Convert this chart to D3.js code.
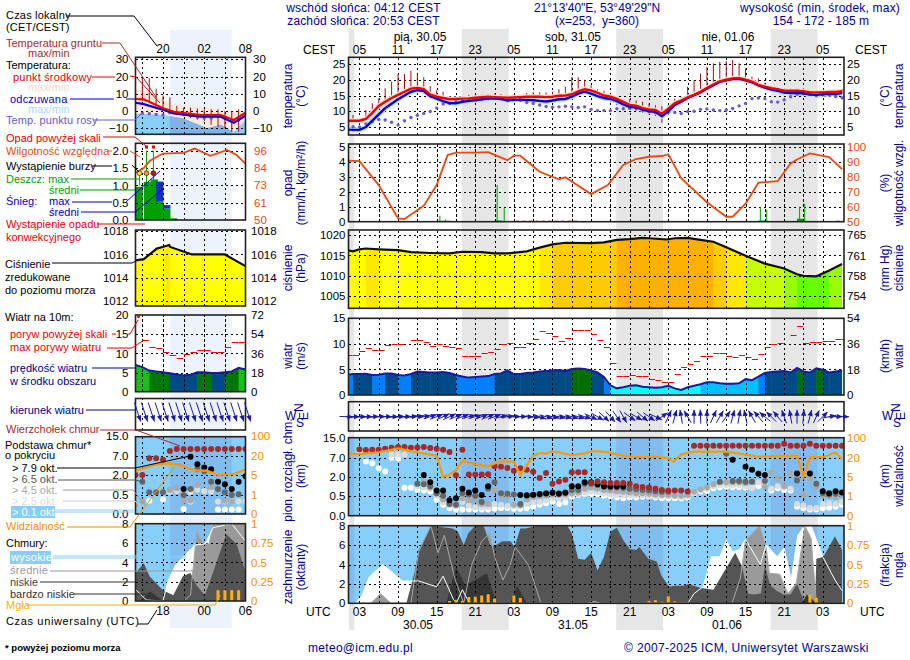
<!DOCTYPE html>
<html>
<head>
<meta charset="utf-8">
<script src="https://cdn.jsdelivr.net/npm/d3@7"></script>
<style>
  body { margin: 0; background: #fff; }
  text { font-family: "Liberation Sans", Arial, sans-serif; font-size: 11px; }
</style>
</head>
<body>
<div id="chart"></div>
<script>
// hours are UTC, counted from 00:00 on 30.05
var hours = d3.range(1, 79);
var nightBands = [[0, 2.2], [18.9, 26.2], [42.9, 50.2], [66.9, 74.2]];
var timeTicks = [3, 9, 15, 21, 27, 33, 39, 45, 51, 57, 63, 69, 75];
var cestLabels = ["05", "11", "17", "23", "05", "11", "17", "23", "05", "11", "17", "23", "05"];
var utcLabels = ["03", "09", "15", "21", "03", "09", "15", "21", "03", "09", "15", "21", "03"];
var gridHours = d3.range(3, 78, 3);

var tempMid = [7,7,7,7.6,9.5,11.7,13,14.2,15.2,16.2,
  17.2,17.4,17,15.3,14.6,14.2,13.8,13.9,14,14.1,
  14.3,14.5,14.6,14.5,14.4,14.3,14.4,14.5,14.6,14.6,
  14.6,14.5,14.6,14.9,15,15.4,16.3,17,16.6,15.8,
  15,14.6,13.9,13,12,11.8,11,10.6,10.4,9.2,
  10.8,12.5,13.4,14.4,15.2,16.2,17.4,18.5,19.5,20,
  20.4,20.5,20,19.4,18.4,17.8,17.3,17,16.5,16.5,
  16.5,16.4,16,16,16,16.1,16.1,16.4];
var tempFeels = [4.2,4.1,4.1,5,7,9,11,12.4,13.8,15,
  16.2,16.7,16.4,14.8,14,13.2,12.6,12.5,13,13.3,
  13.5,13.8,14,14,13.9,13.5,13.6,13.7,13.6,13.5,
  13.3,13.1,13.4,13.8,13.9,14.6,15.6,16.2,15.6,14.8,
  14.2,13.9,13.2,12.2,11.4,11.2,10.5,10,9.8,8.4,
  10,12,13,14.2,15.1,16,17.2,18.3,19.3,19.8,
  20.2,20.3,19.8,19.2,18.2,17.5,16.9,16.5,15.9,15.8,
  15.8,15.7,15.3,15.2,15.4,15.5,15.5,15.8];
var dewPoint = [5.3,5.1,5,6,6.7,7.4,7.2,6.5,5.6,7,
  8,8.7,9.3,9.9,11,12.3,12.5,13,13.3,13.4,
  13.6,13.8,14,14.2,14,13.4,13.6,13.5,12.8,12.5,
  12,11.5,11.3,11.4,11.6,11.4,11.2,11.4,10.6,10.2,
  10.2,10.2,10.8,10.8,10.9,10.8,10.2,9.9,9.5,9.3,
  9.7,9.6,9.3,9.9,10,10.6,10.7,10.4,10.2,10.4,
  10.9,11.7,12.5,14,14.2,14,13,12.9,13.6,14.6,
  15.4,15.6,15.4,14.9,15.2,15.2,14.7,14.3];
var groundMax = [7.5,8.8,7.8,10.4,12.5,14,17.3,19.4,21.8,21.8,
  22.9,22.2,20.8,18,16.7,16.2,14.8,14.4,14.8,15.2,
  15.2,15.4,15.4,15.6,15.4,15,15.2,15.2,15.8,16,
  16,16,16.2,17,17.8,20.8,20.8,20,18.3,17,
  16.5,15.4,14.6,13.8,13.8,13.4,13,12.4,11.9,11.6,
  12,14,14.5,17.8,19.8,22,24.1,25.2,25.7,25.9,
  26.3,25.2,23.6,21,20.5,19,17.8,17.5,17.3,17.3,
  17.3,17,16.7,16.7,16.5,16.5,16.7,17];
var groundMin = [6.5,6.5,6.5,7,8.5,10.5,11.5,12.8,13.8,15,
  16,16,15.5,14,13.5,13,12.5,12.5,12.8,13,
  13.2,13.5,13.8,13.8,13.6,13.2,13.2,13.2,13.2,13,
  13,12.8,13,13.5,13.5,14.5,15.5,16,15.5,14.5,
  13.5,13,12,11,10.5,10.2,9.5,9,8.5,6.4,
  9,11.5,13,14,15,16,17,18,19,19.5,
  20,20,19.5,19,18,17,16.5,16,15.5,15.5,
  15.5,15.3,15,15,15,15.2,15.2,15.5];

var humidity = [[1.1,90.7],[3,90.4],[6,74.4],[9,52.2],[10,51.8],[13,60.7],[15,74.4],[16.7,94.4],[18,96],[21,96],[23,96.4],[26,91],[27,94],[28,94],[31,83.3],[34,78.2],[35,79.6],[39,68.4],[41.6,74.4],[44,87.8],[46,91.8],[48,93.3],[50,93.8],[51,95],[53,79],[57,63],[60,53.3],[61,53.3],[63,62],[65,76],[68,77],[70,88.8],[71,91.5],[73,95.5],[76,93],[78,85]];
var rainMax = [[15.5,0.4],[16.4,0.15],[24.4,2.45],[25.5,0.9],[65.3,1],[66.3,0.8],[71.4,1],[72.2,1.2]];
var rainMean = [[15,0.06],[16,0.06],[24,0.08],[65,0.08],[71,0.2]];
var convective = [27.5,28.5,29.5,30.5,31.5,32.5,33.5,34.5,35.5,36.5,77.3];

var pressure = [[1.1,1016.3],[2,1016],[3,1016.5],[4,1016.7],[6,1016.5],[9,1016.3],[11,1015.8],[14,1015.6],[17,1015.5],[19,1015.9],[22,1015.8],[24,1015.5],[26,1015.5],[29,1016],[31,1016.9],[33,1017.7],[35,1018.1],[39,1018],[41,1018.2],[43,1018.8],[45,1019],[47,1019.3],[48,1019.2],[50.7,1018.9],[52,1019.2],[54,1019.3],[56,1018.8],[58,1018.35],[60,1017],[63,1014.9],[66,1013],[69,1011.8],[71,1010.4],[72,1010],[74,1009.9],[76,1011.3],[78,1012.9]];

var windSpeed = [3.9,4.1,4.1,4.15,3.9,3.95,4.2,4.2,3.9,3.8,
  4.1,4.6,4.5,4.4,4.4,4.5,4.3,3.9,3.6,3.4,
  3.5,3.6,3.7,4.1,4.2,4.8,4.1,4.1,4.3,4.4,
  4.6,4.7,4.8,4.9,4.7,5.1,5.2,5.1,4.8,4.4,
  3.5,1.9,1.3,1.5,1.8,1.9,1.6,1.5,1.4,1.5,
  1.8,1.3,1,1.5,1.8,2.1,2.5,2.5,2.3,2.2,
  2.2,2.3,3.1,2.9,3.6,4.3,4.5,4.6,4.7,4.4,
  5.3,4.6,4.4,5.2,4.95,4.4,4.6,4.8];
var windGust = [7.8,7.8,8.7,9.1,8.8,8.8,9.7,9.9,9.9,null,
  10.8,10.8,10.3,9.5,9.9,9.5,9.4,9.1,7.6,7.6,
  7.7,8.2,8.5,8.9,9.9,10.2,9.3,9.3,10.1,11,
  12.5,12.2,11.5,10.5,11.1,12.8,12.7,12.7,11.9,10.8,
  9.3,6.3,3.8,3.8,4,3.8,3.7,3.1,2.9,2.5,
  2.5,4.2,5.5,6.1,6.7,7.6,7.6,8.2,8.2,7.6,
  7.4,7.8,7.4,7,8,9.3,9.9,10.2,null,11.7,
  13.4,10.1,10.3,10.3,10.5,10.5,10.9,10.9];
var windDir = [272,270,270,270,268,268,270,270,268,268,
  265,262,258,252,248,245,245,248,250,255,
  255,250,248,250,255,262,268,268,272,278,
  290,285,282,282,285,285,285,288,295,300,
  312,318,325,330,305,300,310,305,295,235,
  205,195,170,150,180,178,180,205,210,215,
  195,190,168,150,140,130,135,140,160,170,
  180,185,195,205,225,258,268,270];

var cloudTop = [null,null,10.3,10.1,10.2,10.2,10.6,11,11.3,11.3,
  11,11.1,11.3,10.9,10.6,10.2,9.3,2.5,10.2,2.7,
  2.7,2.7,2.8,4.8,4.7,4.4,3.7,4.3,3.9,3.4,
  1.95,3.1,1.5,1.66,1.8,3.3,3.3,3.3,1.55,1.66,
  1.6,1.55,1.55,1.55,1.5,1.3,1.24,1.2,1.1,1,
  .95,.95,.95,.87,11.8,11.8,11.8,11.8,11.8,11.8,
  11.8,11.8,11.8,11.8,11.8,11.8,11.8,11.8,12.6,11.8,
  11.8,11.8,12.6,11.8,11.8,11.8,11.8,11.8];
var base79 = [null,null,null,null,null,null,null,null,null,null,
  null,null,2.6,1.6,.95,.95,.4,.45,1.1,.8,
  .95,.6,1.3,null,null,null,null,.6,.58,.63,
  .68,.72,.78,.7,.78,1.3,1.3,1.6,1.6,1.45,
  1.3,1.3,1.3,1.3,null,null,null,null,null,null,
  null,null,null,null,null,null,null,null,null,null,
  6.5,null,4.7,3.9,2.9,2.6,null,null,null,null,
  3,null,3,null,.9,.75,.9,.8];
var base65 = [null,null,null,null,null,null,null,null,null,null,
  null,1.5,1.45,1.3,.75,.55,.3,.28,.75,.65,
  .55,.35,1.1,1.6,.75,.7,.65,.3,.55,.6,
  .65,.75,.8,.75,.8,1,1,1.5,1.5,1.4,
  1.25,1.2,1.2,1.15,1.1,1.05,1,.95,.9,.85,
  .85,null,null,null,null,null,null,null,1.65,8.6,
  1.7,1.7,1.65,1.65,null,1.7,null,null,null,null,
  1.75,null,null,1.5,.75,.65,.7,.8];
var base45 = [null,null,null,null,null,null,null,null,null,null,
  null,1.5,1.7,1.2,.7,.42,.3,.28,.45,.4,
  .42,.3,.3,.95,.55,.5,.28,.27,.42,.48,
  .5,.55,.62,.6,.62,.75,.8,1.1,1.2,1.1,
  1,.95,.9,.85,.8,.75,.75,.7,.65,.6,
  .6,.55,.55,.6,.85,1.05,1.2,1.45,1.6,1.6,
  1.6,1.6,1.55,1.7,3,1.25,3.2,1.9,1.3,3,
  2.3,.65,1.9,1.2,.55,.5,.48,.6];
var base25 = [null,null,null,null,null,null,null,8.3,8.4,8.2,
  null,1.3,1.2,1.1,.55,.34,.26,.24,.35,.26,
  .22,.22,.22,.3,.28,.25,.25,.24,.3,.35,
  .36,.4,.45,.45,.47,.6,.65,.8,.85,.82,
  .72,.65,.6,.58,.58,.56,.56,.53,.52,.5,
  .5,.5,.48,.5,.75,.95,1.1,1.3,1.4,1.4,
  1.4,1.4,1.3,1.2,1.6,1.5,1.1,1.3,1.2,1.1,
  .3,.26,.2,.2,.3,.32,.3,.35];
var base01 = [null,null,9.8,6,5.6,4.3,3.5,7,6.8,1.18,
  1.18,1,.95,.87,.41,.28,.19,.16,.16,.16,
  .16,.16,.16,.18,.19,.19,.18,.18,.19,.23,
  .28,.32,.36,.3,.34,.49,.6,.68,.68,.66,
  .55,.5,.47,.45,.47,.47,.49,.49,.47,.45,
  .45,.45,.45,.47,.74,.87,.92,1.13,1.21,1.26,
  1.21,1.21,1.18,1.18,1.29,1.32,.95,1.13,1,.95,
  .23,.19,.16,.16,.19,.21,.23,.28];
var visibility = [[1.1,37],[3,34.7],[6,41],[9,57],[12,41],[15,28],[16,5.4],[17,7],[18,10.6],[19,17.7],[21,14.9],[23,13.6],[25,17.4],[27,16.9],[28,6.8],[30,28],[31,38.7],[32,36],[33,46.7],[36,30.7],[38,37],[39,46.7],[41,44],[44,28],[46,22.7],[49,24],[51,19.5],[51.8,17],[53,33.3],[55,44],[60,44],[65,24],[69,28],[71,28],[72,5.5],[73,22],[75,22],[77,41],[78,19]];

var cloudHigh = [[1,0],[2.4,0],[3.4,.8],[4.5,2.7],[6.6,4],[7.9,3.3],[9.7,2.3],[11,2.3],[12.2,2.3],[15,1.7],[16,2.8],[17.6,.4],[18.1,.1],[19,1.4],[19.7,.5],[20.2,0],[38.5,0],[39.5,.15],[40.5,0],[54,0],[55,1],[56.4,1.7],[57.7,4.8],[59,4.8],[60,6.5],[61,5.3],[62,5.5],[63,6.6],[65.3,4],[66.2,6],[67.9,4.8],[69,5.7],[70.1,2.4],[71.1,7],[72.2,8],[73.2,8],[75,4.8],[76.9,2.4],[78,1.3]];
var cloudMid = [[1,0],[4.8,0],[6.3,1],[7.9,0],[11,0],[12.2,5.3],[14.1,8],[15.2,5.2],[16.2,7],[17.8,2.6],[19.2,0],[20.4,3.9],[22,6.4],[23.2,7.2],[24.1,4.6],[25.3,2.4],[26.4,3.9],[27.2,5.8],[29.3,3.9],[31.2,0],[60.9,0],[62.2,2.6],[63,6.5],[65.2,8],[66.2,5.8],[66.7,3.1],[68.3,3],[69,1.9],[69.6,1],[70.9,2.1],[72.2,8],[73.2,6.7],[74,0],[78,0]];
var cloudLow = [[1,0],[10.3,0],[11.6,3.3],[12.2,5.5],[14.1,8],[17.5,7.7],[18.3,7.4],[19.2,6],[19.9,7.2],[21,8],[22.3,8],[23.3,6],[24,5.9],[25.2,6.4],[26.5,6.4],[27.1,5.8],[28,7.7],[28.8,7.7],[30.6,8],[35.3,8],[36,7.2],[37,4.6],[38,4.5],[39,5.2],[40,3.4],[41,4.8],[42,7.4],[43,7.8],[44,6.5],[45,5.6],[46,5.5],[46.5,5.8],[47.9,4.6],[49.2,4.3],[49.9,2.9],[51.1,1.7],[51.9,1.8],[53.2,1.8],[54.2,2],[55.9,1.6],[58,1.4],[61.4,5.2],[62.4,3.9],[63.4,1],[64.2,.9],[65.4,1],[66,3.9],[66.8,1.9],[67.8,1.3],[68.9,.9],[70,.9],[71,2],[72.2,0],[73.8,0],[74,4.6],[75.1,4.8],[76.9,6.9],[78,5.5]];
var cloudVeryLow = [[1,0],[16.5,0],[18,3.8],[19.4,1.9],[20.7,2.3],[22.8,3.1],[24.3,0],[26.4,0],[27.5,1.8],[29,0],[71.8,0],[72.5,.9],[74,0],[78,0]];
var fog = [[17,.03],[18,.04],[19,.03],[20,.08],[21,.086],[22,.1],[23,.116],[24,.06],[27,.1],[28,.07],[48,.03],[49,.04],[50,.02],[51,.09],[52,.025],[73,.11],[74,.07]];

// legend panel (small sample meteogram, hours 14..30)
var legHours = d3.range(14, 31);
var legTicks = [18, 24, 30];
var legBand = [19, 28];
var legPink = [[14,13.7],[19.6,4.4],[30,-.4]];
var legBlue = [[14,-1.4],[18.1,-2.3],[19,-3],[21,-4.3],[24.4,-10],[26.4,-8],[28,-11.5],[28.3,-12],[30,-5.4]];
var legRed = [[14,7],[15.2,6.8],[18.1,1.5],[19.6,-.4],[23.5,-2.3],[26.4,-2.3],[28.3,-5.2],[30,-1]];
var legFeels = [[14,4.8],[15.2,4],[18.1,.6],[19.6,-1.4],[23.5,-3.3],[26.4,-3.3],[28.3,-6.8],[30,-2.7]];
var legDew = [[15,-1.3],[16,-1.5],[17,-2],[18,-2.3],[19,-1],[20,-1],[21,-1.5],[22,-2.5],[23,-3.5],[24,-4],[25,-4],[26,-3],[27,-4],[28,-5.5],[29,-5]];
var legGround = [[15,6,19.5],[16,5,19],[17,3,13],[18,1,9],[19,-.5,8],[20,-2,3],[21,-3,2],[22,-4,2],[23,-5,1.5],[24,-6,1],[25,-8,1],[26,-9,1],[27,-10,0],[28,-12,0],[29,-12,1],[30,-3,3]];
var legHumidity = [[14,81],[15.2,84],[16.1,89],[18,94],[21,94.5],[22.6,97.5],[24.9,92.5],[27.3,96.5],[28.7,93],[30,87]];
var legRain = [[14,.96],[15.2,1.1],[16.2,1.17],[17,.53],[18,.33],[19,.05]];
var legSnowTop = [[17,1.11],[18,.43]];
var legRainMax = [[14.6,1.35],[15.6,2],[16.6,2]];
var legStormColors = ["#ffe000", "#ff9900", "#e00000"];
var legConvective = [14.6,15.6,16.6,17.6,18.6];
var legPressure = [[14,1015.5],[15.2,1015.6],[17.1,1016.5],[18.3,1016.7],[18.9,1016.8],[19.05,1016.64],[22.2,1016],[27,1016],[30,1015]];
var legWind = [7,6.4,5.5,5.3,5.1,4.8,4.5,4.2,4.4,5.1,5.1,4.9,4.9,5.1,5.3,6.2,5.8];
var legGust = [[15,13.5],[16,11.7],[17,11.5],[18,10.4],[19,9.5],[20,8.7],[21,9.9],[22,10.4],[23,10.8],[24,10.8],[25,10.4],[26,10.4],[27,11.7],[28,12.9],[29,12.9]];
var legTop = [2,2,6.4,6.4,6,9,9.8,9.8,9.8,9.8,9.8,9.8,9.8,9.8,9.8,9.8,9.8];
var legB79 = [[21,.95],[22,6.8],[23,4.8],[24,4],[25,3.5],[26,1.5],[27,1.3],[28,.95],[29,1.5],[30,1.9]];
var legB65 = [[15,1.5],[16,.7],[17,.7],[18,.7],[21,.5],[22,.95],[23,3.5],[24,3],[25,1.5],[26,.95],[27,.7],[28,.5],[29,.55]];
var legB45 = [[14,.25],[15,.33],[19,.87],[20,1],[21,.35],[22,.35],[23,1.25],[25,1.1],[27,.35],[28,.33]];
var legB25 = [[19,.75],[20,.8],[21,.75],[22,.7],[23,.9],[24,.8],[25,.75],[26,.33],[27,.33],[28,.33],[29,.33],[30,.33]];
var legB01 = [[16,.35],[18,.38],[21,.13],[22,.33],[26,.12],[27,.12],[28,.12],[29,.12]];
var legVis = [[14,8.4],[15.2,10.3],[17,13.4],[18.8,14.2],[20.3,13.4],[21.7,10.3],[23,8.4],[24.4,8.4],[26,5],[28.4,5.8],[30,9.5]];
var legHigh = [[14,1.2],[15.6,.1],[18,0],[18.7,2],[19.8,3.7],[22.6,5.8],[24.1,5.9],[25.3,7.6],[28,8],[30,6.2]];
var legMid = [[14,0],[21,0],[22,.6],[22.9,7.2],[23.9,5.9],[24.7,5.9],[25.3,7.9],[26.7,8],[30,8]];
var legLow = [[14,2.9],[15.2,3.9],[16.1,2.5],[18,1.1],[19.5,.6],[20.9,2.6],[22,2.9],[22.9,1.6],[24.1,.6],[25.3,3],[27.2,6.9],[28.7,5.9],[30,3]];
var legVeryLow = [[14.6,0],[16.1,1],[18,0]];
var legFog = [[26,.14],[27,.14],[28,.14],[29,.14]];

function zip(xs, ys) { return xs.map(function(h, i) { return [h, ys[i]]; }); }

var navy = "#000090", redOrange = "#e84a10", orange = "#ff8c00";

var svg = d3.select("#chart").append("svg").attr("width", 910).attr("height", 660).style("display", "block");
var defs = svg.append("defs");
var clipCount = 0;

var xMain = d3.scaleLinear().domain([1.3, 78.3]).range([348.5, 844]);
var xLeg = d3.scaleLinear().domain([14, 30]).range([135.5, 245.5]);

// background time bands
nightBands.forEach(function(b) {
  svg.append("rect").attr("x", Math.max(xMain(b[0]), 349)).attr("y", 29)
     .attr("width", xMain(b[1]) - Math.max(xMain(b[0]), 349)).attr("height", 601).attr("fill", "#e6e6e6");
});
svg.append("rect").attr("x", xLeg(legBand[0])).attr("y", 30).attr("width", xLeg(legBand[1]) - xLeg(legBand[0]))
   .attr("height", 598).attr("fill", "#edf3fd");

function line(x, y) { return d3.line().x(function(d) { return x(d[0]); }).y(function(d) { return y(d[1]); }); }
function area(x, y, y0) { return d3.area().x(function(d) { return x(d[0]); }).y1(function(d) { return y(d[1]); }).y0(y0); }

function stroke(g, d, color, width) {
  return g.append("path").attr("d", d).attr("fill", "none").attr("stroke", color).attr("stroke-width", width);
}

// one framed panel: under() draws below the dashed grid, over() above it
function panel(x, yb, gridX, gridY, y, under, over) {
  var id = "clip" + (clipCount++);
  var x0 = x.range()[0], x1 = x.range()[1];
  defs.append("clipPath").attr("id", id).append("rect").attr("x", x0).attr("y", yb[0]).attr("width", x1 - x0).attr("height", yb[1] - yb[0]);
  var g = svg.append("g").attr("clip-path", "url(#" + id + ")");
  if (under) under(g);
  var gx = g.append("g").attr("transform", "translate(0," + yb[1] + ")")
    .call(d3.axisBottom(x).tickValues(gridX).tickSize(yb[0] - yb[1]).tickFormat(""));
  var gy = g.append("g").attr("transform", "translate(" + x0 + ",0)");
  if (y) gy.call(d3.axisLeft(y).tickValues(gridY).tickSize(x0 - x1).tickFormat(""));
  g.selectAll(".domain").remove();
  g.selectAll(".tick line").attr("stroke", "#000").attr("stroke-dasharray", "2.5,2.5").attr("stroke-width", 1).attr("shape-rendering", "crispEdges");
  if (over) over(g);
  svg.append("rect").attr("x", x0).attr("y", yb[0]).attr("width", x1 - x0).attr("height", yb[1] - yb[0])
     .attr("fill", "none").attr("stroke", "#222").attr("stroke-width", 1.6);
}

function valueAxis(scale, xPos, values, fmt, color, right) {
  var ax = (right ? d3.axisRight(scale) : d3.axisLeft(scale)).tickValues(values).tickSize(0).tickPadding(0).tickFormat(fmt || d3.format("d"));
  var g = svg.append("g").attr("transform", "translate(" + xPos + ",0)").call(ax);
  g.select(".domain").remove();
  g.selectAll("text").attr("fill", color || "#000").style("font-size", "11.5px").style("font-family", '"Liberation Sans"');
}

function label(x, y, str, color, anchor, extra) {
  var t = svg.append("text").attr("x", x).attr("y", y).attr("fill", color || "#000").attr("text-anchor", anchor || "start").text(str);
  if (extra) t.style("letter-spacing", extra);
  return t;
}
function label12(x, y, str, color, anchor, extra) {
  return label(x, y, str, color, anchor, extra).style("font-size", "12px");
}
function vtitle(x, cy, str) {
  svg.append("text").attr("transform", "translate(" + x + "," + cy + ") rotate(-90)")
     .attr("text-anchor", "middle").attr("fill", navy).style("font-size", "12px").text(str);
}
function lead(points, color, width) {
  stroke(svg, d3.line()(points), color, width || 1);
}

var windColor = d3.scaleThreshold().domain([2, 3.25, 4, 5]).range(["#00ffff", "#00c0ff", "#0080ff", "#004a85", "#006f00"]);
var legWindColor = d3.scaleThreshold().domain([5, 6]).range(["#004a85", "#007700", "#16c016"]);
var pressColor = d3.scaleThreshold().domain([1010.5, 1012, 1015, 1016.65, 1017.5, 1018.4])
  .range(["#66ff00", "#99ff00", "#c8ff00", "#ffff00", "#ffe800", "#ffcc00", "#ffb000"]);

// --- panel drawers shared by the big chart and the legend sample ---
function drawPressure(x, yb, y, ticks, pts, lw) {
  panel(x, yb, lw.grid, ticks, y, function(g) {
    var id = "clip" + (clipCount++);
    defs.append("clipPath").attr("id", id).append("path").attr("d", area(x, y, yb[1])(pts));
    var strips = g.append("g").attr("clip-path", "url(#" + id + ")");
    pts.slice(0, -1).forEach(function(p, i) {
      strips.append("rect").attr("x", x(p[0])).attr("y", yb[0]).attr("width", x(pts[i + 1][0]) - x(p[0]) + 0.5)
        .attr("height", yb[1] - yb[0]).attr("fill", pressColor(p[1]));
    });
    if (x(pts[0][0]) > x.range()[0]) strips.append("rect").attr("x", x.range()[0]).attr("y", yb[0]).attr("width", x(pts[0][0]) - x.range()[0]).attr("height", yb[1] - yb[0]).attr("fill", pressColor(pts[0][1]));
  }, function(g) {
    stroke(g, line(x, y)(pts), "#111", 2.2);
  });
}

function drawWind(x, yb, y, ticks, speedPts, gustPts, colorFn, lw) {
  panel(x, yb, lw.grid, ticks, y, function(g) {
    var id = "clip" + (clipCount++);
    defs.append("clipPath").attr("id", id).append("path").attr("d", area(x, y, yb[1])(speedPts));
    var strips = g.append("g").attr("clip-path", "url(#" + id + ")");
    strips.selectAll("rect").data(speedPts).enter().append("rect")
      .attr("x", function(d) { return x(d[0]); }).attr("y", yb[0])
      .attr("width", x(2) - x(1) + 0.5).attr("height", yb[1] - yb[0])
      .attr("fill", function(d) { return colorFn(d[1]); });
  }, function(g) {
    stroke(g, line(x, y)(speedPts), "#1a1a9a", 2);
    g.selectAll("line.gust").data(gustPts.filter(function(d) { return d[1] !== null; })).enter().append("line")
      .attr("class", "gust").attr("x1", function(d) { return x(d[0]); }).attr("x2", function(d) { return x(d[0] + 1) - 0.5; })
      .attr("y1", function(d) { return Math.round(y(d[1])) + 0.5; }).attr("y2", function(d) { return Math.round(y(d[1])) + 0.5; })
      .attr("stroke", "#ee0000").attr("stroke-width", 1);
  });
}

function drawArrows(g, x, yc, len, pts) {
  // pts: [hour, direction the wind comes from in degrees]
  pts.forEach(function(p) {
    var a = (p[1] + 180) * Math.PI / 180;
    var dx = Math.sin(a) * len / 2, dy = -Math.cos(a) * len / 2;
    var cx = x(p[0]);
    var tip = [cx + dx, yc + dy], tail = [cx - dx, yc - dy];
    var ux = dx / (len / 2), uy = dy / (len / 2);
    var bx = tip[0] - ux * 6, by = tip[1] - uy * 6;
    var head = [tip, [bx - uy * 2.6, by + ux * 2.6], [bx + uy * 2.6, by - ux * 2.6]];
    stroke(g, d3.line()([tail, tip]), "#1a1aa8", 1);
    g.append("path").attr("d", d3.line()(head) + "Z").attr("fill", "#1a1aa8");
  });
}

function drawDots(g, x, y, pts, color, r) {
  g.selectAll(null).data(pts.filter(function(d) { return d[1] !== null; })).enter().append("circle")
    .attr("cx", function(d) { return x(d[0]); }).attr("cy", function(d) { return y(d[1]); })
    .attr("r", r).attr("fill", color);
}

function drawClouds(x, yb, y, yVis, ticks, sets, vis, bands, lw) {
  panel(x, yb, lw.grid, ticks, y, function(g) {
    g.append("rect").attr("x", x.range()[0]).attr("y", yb[0]).attr("width", x.range()[1] - x.range()[0]).attr("height", yb[1] - yb[0]).attr("fill", "#87cefa");
    bands.forEach(function(b) {
      g.append("rect").attr("x", x(b[0])).attr("y", yb[0]).attr("width", x(b[1]) - x(b[0])).attr("height", yb[1] - yb[0]).attr("fill", "#80bdee");
    });
  }, function(g) {
    sets.forEach(function(s) { drawDots(g, x, y, s[0], s[1], 3); });
    stroke(g, line(x, yVis)(vis), "#ff9800", 2.2);
  });
}

function drawCover(x, yb, y, ticks, layers, fogPts, yFog, bands, lw) {
  panel(x, yb, lw.grid, ticks, y, function(g) {
    g.append("rect").attr("x", x.range()[0]).attr("y", yb[0]).attr("width", x.range()[1] - x.range()[0]).attr("height", yb[1] - yb[0]).attr("fill", "#87cefa");
    bands.forEach(function(b) {
      g.append("rect").attr("x", x(b[0])).attr("y", yb[0]).attr("width", x(b[1]) - x(b[0])).attr("height", yb[1] - yb[0]).attr("fill", "#80bdee");
    });
    g.append("path").attr("d", area(x, y, yb[1])(layers.high)).attr("fill", "#fff");
    g.append("path").attr("d", area(x, y, yb[1])(layers.mid)).attr("fill", "#9a9a9a");
    g.append("path").attr("d", area(x, y, yb[1])(layers.low)).attr("fill", "#555");
    g.append("path").attr("d", area(x, y, yb[1])(layers.veryLow)).attr("fill", "#363636");
  }, function(g) {
    stroke(g, line(x, y)(layers.mid), "#a8a8a8", 1);
    stroke(g, line(x, y)(layers.high), "#fff", 1);
    g.selectAll(null).data(fogPts).enter().append("rect")
      .attr("x", function(d) { return x(d[0]) - 1.5; }).attr("y", function(d) { return yFog(d[1]); })
      .attr("width", 3).attr("height", function(d) { return yb[1] - yFog(d[1]); }).attr("fill", "#ffb000");
  });
}

// --- big chart ---
var mainGrid = { grid: gridHours };
var yTemp = d3.scaleLinear().domain([5, 25]).range([127, 64]);
panel(xMain, [57.3, 135], gridHours, [5, 10, 15, 20, 25], yTemp, null, function(g) {
  var tMid = zip(hours, tempMid), tFeels = zip(hours, tempFeels);
  hours.forEach(function(h, i) {
    g.append("line").attr("x1", xMain(h)).attr("x2", xMain(h)).attr("y1", yTemp(groundMax[i])).attr("y2", yTemp(groundMin[i]))
     .attr("stroke", "#a01010").attr("stroke-width", 1);
  });
  stroke(g, line(xMain, yTemp)(tFeels), "#bfe6fb", 5);
  stroke(g, line(xMain, yTemp)(tMid), "#ffdcd2", 5);
  drawDots(g, xMain, yTemp, zip(hours, dewPoint), "#6a5acd", 1.7);
  stroke(g, line(xMain, yTemp)(tFeels), "#0000e0", 2.4);
  stroke(g, line(xMain, yTemp)(tMid), "#ee0000", 2.4);
});

var yRain = d3.scaleLinear().domain([0, 5]).range([221.7, 146.7]);
var yHum = d3.scaleLinear().domain([50, 100]).range([221.7, 146.7]);
panel(xMain, [144, 221.7], gridHours, [1, 2, 3, 4, 5], yRain, function(g) {
  g.selectAll(null).data(rainMean).enter().append("rect")
    .attr("x", function(d) { return xMain(d[0]); }).attr("y", function(d) { return yRain(d[1]); })
    .attr("width", xMain(2) - xMain(1) + 1).attr("height", function(d) { return yRain(0) - yRain(d[1]); }).attr("fill", "#00a000");
}, function(g) {
  g.selectAll(null).data(rainMax).enter().append("line")
    .attr("x1", function(d) { return xMain(d[0]); }).attr("x2", function(d) { return xMain(d[0]); })
    .attr("y1", function(d) { return yRain(d[1]); }).attr("y2", yRain(0)).attr("stroke", "#00a000").attr("stroke-width", 1);
  stroke(g, line(xMain, yHum)(humidity), redOrange, 1.8);
  g.selectAll(null).data(convective).enter().append("rect")
    .attr("x", function(d) { return xMain(d) - 1; }).attr("y", yRain(0) - 1).attr("width", 3).attr("height", 2).attr("fill", "#e00000");
});

var yPress = d3.scaleLinear().domain([1005, 1020]).range([296.3, 235]);
drawPressure(xMain, [230, 308.3], yPress, [1005, 1010, 1015, 1020], pressure, mainGrid);

var yWind = d3.scaleLinear().domain([0, 15]).range([395, 318.3]);
drawWind(xMain, [318.3, 395], yWind, [5, 10, 15], zip(hours, windSpeed), zip(hours, windGust), windColor, mainGrid);

panel(xMain, [401.7, 431], gridHours, [], null, null, null);
drawArrows(svg, xMain, 416.7, 14, zip(hours, windDir));

var cloudTicks = [0, 0.5, 2, 7, 15];
var visTicks = [0, 1, 5, 20, 100];
var yCloud = d3.scaleLinear().domain(cloudTicks).range([515.7, 496.3, 477.3, 457.7, 437.7]);
var yVis = d3.scaleLinear().domain(visTicks).range([515.7, 496.3, 477.3, 457.7, 437.7]);
var mainDots = [[zip(hours, base01), "#fff"], [zip(hours, base25), "#dcdcdc"], [zip(hours, base45), "#aaaaaa"],
                [zip(hours, base65), "#666"], [zip(hours, base79), "#000"], [zip(hours, cloudTop), "#a52a2a"]];
drawClouds(xMain, [437.7, 515.7], yCloud, yVis, [0.5, 2, 7], mainDots, visibility, nightBands, mainGrid);

var yCover = d3.scaleLinear().domain([0, 8]).range([603.3, 525.7]);
var yFog = d3.scaleLinear().domain([0, 1]).range([603.3, 525.7]);
drawCover(xMain, [525.7, 603.3], yCover, [2, 4, 6], { high: cloudHigh, mid: cloudMid, low: cloudLow, veryLow: cloudVeryLow }, fog, yFog, nightBands, mainGrid);

// main value axes
var lx = 345.5, rx = 847;
valueAxis(yTemp, lx, [5, 10, 15, 20, 25]);
valueAxis(yTemp, rx, [5, 10, 15, 20, 25], null, "#000", true);
valueAxis(yRain, lx, [0, 1, 2, 3, 4, 5]);
valueAxis(yHum, rx, [50, 60, 70, 80, 90, 100], null, redOrange, true);
valueAxis(yPress, lx, [1005, 1010, 1015, 1020]);
var mmHg = { 1005: "754", 1010: "758", 1015: "761", 1020: "765" };
valueAxis(yPress, rx, [1005, 1010, 1015, 1020], function(d) { return mmHg[d]; }, "#000", true);
valueAxis(yWind, lx, [0, 5, 10, 15]);
valueAxis(yWind, rx, [0, 5, 10, 15], function(d) { return d3.format("d")(d * 3.6); }, "#000", true);
valueAxis(yCloud, lx, cloudTicks, d3.format(".1f"));
valueAxis(yVis, rx, visTicks, null, orange, true);
valueAxis(yCover, lx, [0, 2, 4, 6, 8]);
valueAxis(yFog, rx, [0, .25, .5, .75, 1], function(d) { return d3.format("~g")(d); }, orange, true);

// time labels
timeTicks.forEach(function(h, i) {
  label12(xMain(h), 54, cestLabels[i], "#000", "middle");
  label12(xMain(h), 616, utcLabels[i], "#000", "middle");
});
label12(303, 54, "CEST", "#000");
label12(855, 54, "CEST", "#000");
label12(306, 616, "UTC", "#000");
label12(860, 616, "UTC", "#000");
label12(420, 41, "pią, 30.05", "#000", "middle");
label12(573, 41, "sob, 31.05", "#000", "middle");
label12(728, 41, "nie, 01.06", "#000", "middle");
label12(418, 629, "30.05", "#000", "middle");
label12(573, 629, "31.05", "#000", "middle");
label12(727, 629, "01.06", "#000", "middle");

// header / footer
label12(363.5, 12, "wschód słońca: 04:12 CEST", navy, "middle", "0.15px");
label12(363.5, 25, "zachód słońca: 20:53 CEST", navy, "middle", "0.15px");
label12(597, 12, "21°13'40\"E, 53°49'29\"N", navy, "middle");
label12(597, 25, "(x=253,\u00a0\u00a0y=360)", navy, "middle");
label12(820, 12, "wysokość (min, środek, max)", navy, "middle", "0.2px");
label12(821, 25, "154 - 172 - 185 m", navy, "middle", "0.1px");
label12(308, 652, "meteo@icm.edu.pl", navy, "start", "0.3px");
label12(624, 652, "© 2007-2025 ICM, Uniwersytet Warszawski", navy, "start", "0.35px");
label(5, 651, "* powyżej poziomu morza", "#000").style("font-size", "9.5px").style("font-weight", "bold");

// axis titles
vtitle(292, 96, "temperatura"); vtitle(305, 96, "(°C)");
vtitle(292, 183, "opad"); vtitle(305, 183, "(mm/h, kg/m²/h)");
vtitle(292, 268, "ciśnienie"); vtitle(305, 268, "(hPa)");
vtitle(292, 356, "wiatr"); vtitle(305, 356, "(m/s)");
vtitle(292, 470, "pion. rozciągł. chm."); vtitle(305, 476, "(km)");
vtitle(292, 567, "zachmurzenie"); vtitle(305, 567, "(oktanty)");
vtitle(889, 96, "(°C)"); vtitle(903, 96, "temperatura");
vtitle(889, 183, "(%)"); vtitle(903, 183, "wilgotność wzgl.");
vtitle(889, 268, "(mm Hg)"); vtitle(903, 268, "ciśnienie");
vtitle(889, 356, "(km/h)"); vtitle(903, 356, "wiatr");
vtitle(889, 476, "(km)"); vtitle(903, 476, "widzialność");
vtitle(889, 565, "(frakcja)"); vtitle(903, 565, "mgła");

[285, 882].forEach(function(cx) {
  label12(cx, 420, "W", navy);
  label12(cx + 11, 427, "S", navy);
  svg.append("text").attr("transform", "translate(" + (cx + 18) + ",412) rotate(-90)").attr("fill", navy).style("font-size", "12px").text("N");
  svg.append("text").attr("transform", "translate(" + (cx + 23) + ",420) rotate(-90)").attr("fill", navy).style("font-size", "12px").text("E");
});

// --- legend sample panels ---
var legGrid = { grid: [15, 18, 21, 24, 27] };
var yTempL = d3.scaleLinear().domain([-10, 30]).range([128.3, 59.3]);
panel(xLeg, [57.3, 134.3], legGrid.grid, [-10, 0, 10, 20, 30], yTempL, function(g) {
  g.append("path").attr("d", area(xLeg, yTempL, 134.3)(legPink)).attr("fill", "#ffe9dc");
  g.append("path").attr("d", area(xLeg, yTempL, 134.3)(legBlue)).attr("fill", "#87cefa");
  var inBand = legBlue.filter(function(d) { return d[0] >= legBand[0] && d[0] <= legBand[1]; });
  g.append("path").attr("d", area(xLeg, yTempL, 134.3)(inBand)).attr("fill", "#7db3e6");
}, function(g) {
  legGround.forEach(function(d) {
    g.append("line").attr("x1", xLeg(d[0])).attr("x2", xLeg(d[0])).attr("y1", yTempL(d[2])).attr("y2", yTempL(d[1]))
     .attr("stroke", "#a01010").attr("stroke-width", 1);
  });
  g.selectAll(null).data(legDew).enter().append("rect")
    .attr("x", function(d) { return xLeg(d[0]) - 1.5; }).attr("y", function(d) { return yTempL(d[1]) - 1.5; })
    .attr("width", 3).attr("height", 3).attr("fill", "#6a5acd");
  stroke(g, line(xLeg, yTempL)(legFeels), "#0000e0", 2.2);
  stroke(g, line(xLeg, yTempL)(legRed), "#ee0000", 2.2);
});

var yRainL = d3.scaleLinear().domain([0, 2]).range([220, 150.7]);
var yHumL = d3.scaleLinear().domain([50, 61, 73, 84, 96]).range([220, 202.7, 185.3, 168, 150.7]);
panel(xLeg, [143.3, 220], legGrid.grid, [.5, 1, 1.5, 2], yRainL, function(g) {
  g.selectAll(null).data(legRain).enter().append("rect")
    .attr("x", function(d) { return xLeg(d[0]); }).attr("y", function(d) { return yRainL(d[1]); })
    .attr("width", xLeg(2) - xLeg(1) + 0.5).attr("height", function(d) { return 220 - yRainL(d[1]); }).attr("fill", "#00a000");
  g.selectAll(null).data(legSnowTop).enter().append("rect")
    .attr("x", function(d) { return xLeg(d[0]); }).attr("y", function(d) { return yRainL(d[1]); })
    .attr("width", xLeg(2) - xLeg(1) + 0.5)
    .attr("height", function(d) { return yRainL(legRain.find(function(r) { return r[0] === d[0]; })[1]) - yRainL(d[1]); })
    .attr("fill", "#1530c8");
}, function(g) {
  g.selectAll(null).data(legRainMax).enter().append("line")
    .attr("x1", function(d) { return xLeg(d[0]); }).attr("x2", function(d) { return xLeg(d[0]); })
    .attr("y1", function(d) { return yRainL(d[1]); }).attr("y2", yRainL(1)).attr("stroke", "#00a000").attr("stroke-width", 1);
  stroke(g, line(xLeg, yHumL)(legHumidity), redOrange, 1.8);
  g.selectAll(null).data(legConvective).enter().append("rect")
    .attr("x", function(d) { return xLeg(d) - 1; }).attr("y", 219).attr("width", 3).attr("height", 2).attr("fill", "#e00000");
  legRainMax.forEach(function(d, i) {
    g.append("circle").attr("cx", xLeg(d[0])).attr("cy", yRainL(1.35)).attr("r", 2.4)
     .attr("fill", legStormColors[i]).attr("stroke", "#222").attr("stroke-width", 0.7);
    if (i > 0) g.append("rect").attr("x", xLeg(d[0]) - 1.5).attr("y", 145.5).attr("width", 3).attr("height", 3).attr("fill", "#e00000");
  });
});

var yPressL = d3.scaleLinear().domain([1012, 1018]).range([301.3, 231]);
drawPressure(xLeg, [230, 306], yPressL, [1012, 1014, 1016, 1018], legPressure, legGrid);

var yWindL = d3.scaleLinear().domain([0, 20]).range([391.7, 315]);
drawWind(xLeg, [315, 391.7], yWindL, [5, 10, 15], zip(legHours, legWind), legGust, legWindColor, legGrid);
svg.append("circle").attr("cx", 138.5).attr("cy", 316.5).attr("r", 1.5).attr("fill", "#e00000");

panel(xLeg, [398.5, 430], legGrid.grid, [], null, null, null);
drawArrows(svg, xLeg, 412, 20, legHours.map(function(h) { return [h + 0.3, 342]; }));

var yCloudL = d3.scaleLinear().domain(cloudTicks).range([514, 495, 475, 456, 436]);
var yVisL = d3.scaleLinear().domain(visTicks).range([514, 495, 475, 456, 436]);
var legDots = [[legB01, "#fff"], [legB25, "#dcdcdc"], [legB45, "#aaaaaa"], [legB65, "#666"], [legB79, "#000"], [zip(legHours, legTop), "#a52a2a"]];
drawClouds(xLeg, [436.7, 514], yCloudL, yVisL, [0.5, 2, 7], legDots, legVis, [legBand], legGrid);

var yCoverL = d3.scaleLinear().domain([0, 8]).range([601, 523.7]);
var yFogL = d3.scaleLinear().domain([0, 1]).range([601, 523.7]);
drawCover(xLeg, [523.7, 601], yCoverL, [2, 4, 6], { high: legHigh, mid: legMid, low: legLow, veryLow: legVeryLow }, legFog, yFogL, [legBand], legGrid);

var llx = 128.5, lrx = 251;
valueAxis(yTempL, llx, [-10, 0, 10, 20, 30]);
valueAxis(yTempL, lrx + 2, [-10, 0, 10, 20, 30], null, "#000", true);
valueAxis(yRainL, llx, [0, .5, 1, 1.5, 2], d3.format(".1f"));
valueAxis(yHumL, lrx + 3, [50, 61, 73, 84, 96], null, redOrange, true);
valueAxis(yPressL, llx, [1012, 1014, 1016, 1018]);
valueAxis(yPressL, lrx, [1012, 1014, 1016, 1018], null, "#000", true);
valueAxis(yWindL, llx, [0, 5, 10, 15, 20]);
valueAxis(yWindL, lrx, [0, 5, 10, 15, 20], function(d) { return d3.format("d")(d * 3.6); }, "#000", true);
valueAxis(yCloudL, llx, cloudTicks, d3.format(".1f"));
valueAxis(yVisL, lrx, visTicks, null, orange, true);
valueAxis(yCoverL, llx, [0, 2, 4, 6, 8]);
valueAxis(yFogL, lrx, [0, .25, .5, .75, 1], function(d) { return d3.format("~g")(d); }, orange, true);

[["20", "18"], ["02", "00"], ["08", "06"]].forEach(function(p, i) {
  label12(xLeg(legTicks[i]), 53, p[0], "#000", "middle");
  label12(xLeg(legTicks[i]), 615, p[1], "#000", "middle");
});

// legend captions and leader lines
var brown = "#a52a2a", red = "#ee0000", blue = "#0000c8", green = "#00a000";
label(6, 19, "Czas lokalny", "#000", "start", "0.2px");
label(6, 31, "(CET/CEST)", "#000", "start", "0.2px");
lead([[66, 16], [134, 16], [157, 46]], "#000");
label(6, 47, "Temperatura gruntu", brown);
label(28, 57, "max/min", brown);
lead([[102, 43], [120, 43], [156, 97]], brown);
label(6, 69, "Temperatura:");
label(13, 81, "punkt środkowy", red, "start", "0.2px");
lead([[92, 77], [115, 77]], red);
lead([[130, 76], [136, 77], [160, 103]], red);
label(28, 91, "max/min", "#ffd8c8");
label(10, 103, "odczuwana", blue, "start", "0.2px");
lead([[70, 99], [114, 99]], blue);
lead([[126, 99], [135, 99]], blue);
label(28, 113, "max/min", "#a6daf8");
label(6, 124, "Temp. punktu rosy", "#6a5acd", "start", "0.1px");
lead([[94, 120], [135, 120], [142, 113]], "#6a5acd");
label(6, 142, "Opad powyżej skali", red);
lead([[103, 137], [135, 137], [146, 146]], red);
label(6, 155, "Wilgotność względna", redOrange);
lead([[107, 151], [112, 151]], redOrange);
lead([[130, 151], [140, 157]], redOrange);
label(6, 170, "Wystąpienie burzy");
lead([[92, 166], [112, 166]], "#000");
lead([[132, 165], [139, 172]], "#000");
label(6, 183, "Deszcz: max", green);
lead([[71, 179], [139, 179]], green);
label(49, 194, "średni", green);
lead([[80, 190], [135, 190]], green);
label(6, 205, "Śnieg:", blue);
label(49, 205, "max", blue);
lead([[72, 202], [112, 202]], blue);
lead([[126, 202], [160, 171]], blue);
label(49, 216, "średni", blue);
lead([[81, 212], [135, 212], [164, 188]], blue);
label(6, 228, "Wystąpienie opadu", red);
lead([[97, 224], [145, 224]], red);
label(6, 241, "konwekcyjnego", red);
label(5, 268, "Ciśnienie");
lead([[52, 263], [132, 263], [136, 261]], "#000");
label(5, 281, "zredukowane");
label(5, 294, "do poziomu morza");
label(5, 321, "Wiatr na 10m:");
label(10, 338, "poryw powyżej skali", red);
lead([[112, 334], [116, 334]], red);
lead([[128, 334], [130, 334], [138, 320]], red);
label(10, 351, "max porywy wiatru", red);
lead([[107, 348], [132, 348], [144, 340]], red);
label(10, 372, "prędkość wiatru", navy);
lead([[92, 368], [135, 368]], navy);
label(10, 385, "w środku obszaru", navy);
label(10, 414, "kierunek wiatru", navy);
lead([[86, 410], [135, 410]], navy);
label(6, 433, "Wierzchołek chmur", brown);
lead([[100, 430], [136, 430], [180, 446]], brown);
label(5, 449, "Podstawa chmur*");
label(5, 459, "o pokryciu");
label(12, 472, "> 7.9 okt.");
lead([[57, 468], [135, 468], [190, 456]], "#000");
label(12, 483, "> 6.5 okt.", "#555");
lead([[58, 480], [135, 480], [143, 482]], "#555");
label(12, 494, "> 4.5 okt.", "#aaa");
lead([[63, 490], [133, 490], [145, 505]], "#999");
label(12, 505, "> 2.5 okt.", "#ddd");
lead([[63, 501], [135, 501], [141, 507]], "#ccc");
svg.append("rect").attr("x", 11).attr("y", 506).attr("width", 44).attr("height", 12).attr("fill", "#87cefa");
label(12, 516, "> 0.1 okt.", "#fff");
lead([[55, 510], [135, 510]], "#87cefa");
lead([[55, 512], [135, 512]], "#87cefa");
label(6, 530, "Widzialność", orange);
lead([[67, 527], [130, 527], [175, 466]], orange);
label(6, 547, "Chmury:");
svg.append("rect").attr("x", 10).attr("y", 551).attr("width", 41).attr("height", 13).attr("fill", "#87cefa");
label(11, 561, "wysokie", "#fff", "start", "0.3px");
lead([[53, 556], [186, 556]], "#87cefa");
lead([[53, 558], [186, 558]], "#87cefa");
label(10, 574, "średnie", "#999", "start", "0.3px");
lead([[50, 571], [193, 571]], "#999");
label(10, 586, "niskie", "#444");
lead([[40, 582], [135, 582]], "#333");
label(10, 598, "bardzo niskie", "#333");
lead([[74, 594], [150, 594]], "#333");
label(6, 609, "Mgła", "#ffb000");
lead([[26, 605], [215, 605], [220, 595]], "#ffb000");
label(6, 625, "Czas uniwersalny (UTC)", "#000", "start", "0.65px");
lead([[138, 624], [148, 624], [157, 610]], "#000");
</script>
</body>
</html>
